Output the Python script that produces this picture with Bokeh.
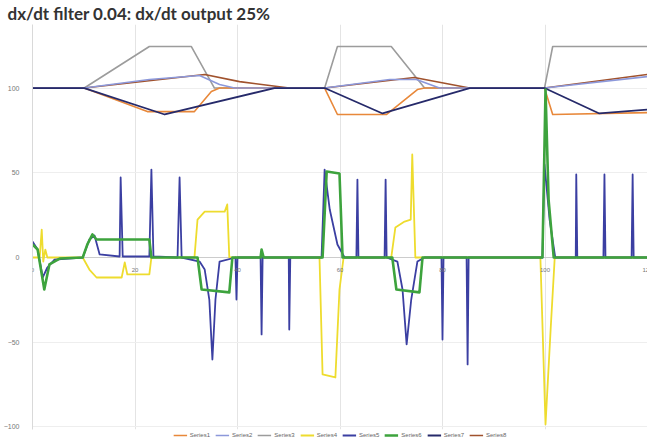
from bokeh.plotting import figure
from bokeh.models import (ColumnDataSource, Legend, LegendItem, LabelSet, Range1d, FixedTicker)
from bokeh.embed import file_html
from bokeh.resources import INLINE

TITLE = "dx/dt filter 0.04: dx/dt output 25%"

x_ticks = [0, 20, 40, 60, 80, 100, 120]
x_tick_labels = ["0", "20", "40", "60", "80", "100", "120"]
y_ticks = [-100, -50, 0, 50, 100]

series_names = ["Series1", "Series2", "Series3", "Series4", "Series5", "Series6", "Series7", "Series8"]

# Upper group (around 100)
s1_x = [0, 10.1, 22.4, 31.6, 34.9, 36.5, 57.0, 59.5, 69.1, 75.1, 76.5, 99.9, 101.5, 120]
s1_y = [100, 100, 86.1, 86.1, 97.9, 100, 100, 84.4, 84.4, 99.1, 100, 100, 84.4, 85.5]

s2_x = [0, 10.1, 22.8, 32.6, 36.5, 39.4, 57.0, 69.7, 74.9, 79.4, 99.9, 120]
s2_y = [100, 100, 105.0, 107.4, 102.1, 100, 100, 105.0, 105.0, 100, 100, 106.8]

s3_x = [0, 10.1, 22.8, 31.0, 35.5, 57.0, 59.5, 70.0, 76.5, 99.9, 101.5, 120]
s3_y = [100, 100, 124.5, 124.5, 100, 100, 124.5, 124.5, 100, 100, 124.5, 124.5]

s7_x = [0, 10.1, 25.8, 47.2, 57.0, 68.3, 85.3, 99.9, 110.6, 120]
s7_y = [100, 100, 84.4, 100, 100, 85.0, 100, 100, 85.0, 87.3]

s8_x = [0, 10.1, 33.6, 40.4, 50.1, 57.0, 74.5, 85.3, 99.9, 120]
s8_y = [100, 100, 108.0, 103.8, 100, 100, 106.2, 100, 100, 108.0]

# Lower group (around 0)
s4_x = [0, 1.4, 1.8, 2.1, 2.5, 2.9, 9.8, 11.1, 12.5, 17.4, 18.0, 18.5, 22.8, 23.2, 31.6,
        32.2, 33.6, 37.5, 38.0, 38.4, 56.0, 56.6, 59.1, 59.9, 60.7, 70.0, 70.8, 72.6, 73.8,
        74.1, 74.7, 99.1, 100.1, 101.1, 101.9, 120]
s4_y = [0, 0, 16.5, -2.4, 4.7, 0, 0, -7.1, -11.8, -11.8, -2.9, -10.0, -10.0, 0, 0,
        22.4, 27.1, 27.1, 31.3, 0, 0, -69.0, -70.8, -18.9, 0, 0, 17.7, 21.2, 22.4,
        60.8, 0, 0, -98.5, -42.5, 0, 0]

s5_x = [0, 1.0, 2.0, 2.9, 4.3, 9.8, 11.1, 12.1, 13.1, 17.0, 17.2, 17.6, 22.8, 23.2, 23.6,
        28.3, 28.7, 29.1, 32.6, 33.6, 34.5, 35.1, 35.7, 36.5, 39.6, 39.8, 40.0, 44.5, 44.7,
        44.9, 50.0, 50.1, 50.3, 56.4, 57.0, 58.0, 59.5, 60.9, 63.2, 63.4, 63.6, 68.7, 68.9,
        69.1, 71.2, 72.2, 73.0, 73.9, 75.1, 76.5, 79.8, 80.0, 80.2, 84.7, 84.9, 85.1, 99.5,
        99.9, 100.9, 102.0, 106.0, 106.1, 106.3, 111.4, 111.6, 111.8, 116.9, 117.1, 117.3, 120]
s5_y = [9.4, 4.7, -11.8, -5.9, -1.2, 0, 10.6, 13.0, 1.8, 0.6, 47.2, 0.6, 0.6, 51.9, 0.6,
        0, 47.2, 0, -2.4, -7.1, -24.8, -60.2, -24.8, -2.4, 0, -24.8, 0, 0, -45.4,
        0, 0, -42.5, 0, 0, 51.9, 28.3, 7.7, 0, 0, 46.0, 0, 0, 46.0,
        0, -2.4, -18.9, -51.3, -24.8, -2.4, 0, 0, -48.4, 0, 0, -63.1, 0, 0,
        54.9, 22.4, 0, 0, 49.0, 0, 0, 49.0, 0, 0, 49.0, 0, 0]

s6_x = [0, 1.0, 2.3, 3.3, 5.3, 9.8, 10.7, 11.7, 12.5, 22.8, 23.2, 32.2, 33.0, 38.4, 39.0,
        44.5, 44.7, 45.1, 56.6, 57.4, 59.9, 60.5, 70.2, 71.0, 75.5, 76.1, 99.5, 100.1,
        100.7, 101.7, 120]
s6_y = [7.7, 4.7, -18.9, -4.1, -0.6, 0, 7.7, 13.6, 10.6, 10.6, 0, 0, -18.9, -20.6, 0,
        0, 4.7, 0, 0, 50.7, 49.6, 0, 0, -18.9, -20.6, 0, 0, 99.1,
        34.2, 0, 0]

colors = ["#E8883A", "#8C98DA", "#9C9C9C", "#EEDC2E", "#3B3FA2", "#3DA33D", "#262A6A", "#A0522D"]
widths = [1.6, 1.6, 1.6, 1.8, 1.8, 2.6, 1.8, 1.6]

series = [(s1_x, s1_y), (s2_x, s2_y), (s3_x, s3_y), (s4_x, s4_y),
          (s5_x, s5_y), (s6_x, s6_y), (s7_x, s7_y), (s8_x, s8_y)]

p = figure(frame_width=615, frame_height=405, output_backend="svg", toolbar_location=None,
           x_range=Range1d(0, 120), y_range=Range1d(-101.5, 137.5),
           x_axis_location=None,
           min_border_left=0, min_border_right=0, min_border_top=0, min_border_bottom=0)

p.title.text = TITLE
p.title.text_font = "Lato"
p.title.text_font_size = "17px"
p.title.text_font_style = "bold"
p.title.text_color = "#333333"
p.title.standoff = 1
p.title.offset = -25

p.outline_line_color = None
p.background_fill_color = "white"
p.border_fill_color = "white"

p.xgrid.ticker = FixedTicker(ticks=x_ticks)
p.xgrid.grid_line_color = "#e4e4e4"
p.ygrid.grid_line_color = "#eeeeee"

p.yaxis.ticker = FixedTicker(ticks=y_ticks)
p.yaxis.major_label_text_font_size = "7px"
p.yaxis.major_label_text_color = "#777777"
p.yaxis.axis_line_color = "#d9d9d9"
p.yaxis.major_tick_line_color = None
p.yaxis.minor_tick_line_color = None
p.yaxis.major_tick_out = 9
p.yaxis.major_tick_in = 0
p.yaxis.major_label_standoff = 4

# zero line (category axis crossing)
p.line(x=[x_ticks[0], x_ticks[-1]], y=[0, 0], line_color="#cccccc", line_width=1)

order = [2, 0, 7, 1, 6, 3, 4, 5]
renderers = {}
for i in order:
    xs, ys = series[i]
    r = p.line(xs, ys, line_color=colors[i], line_width=widths[i], line_join="round")
    renderers[i] = r

lbl_src = ColumnDataSource(dict(x=x_ticks, y=[0] * len(x_ticks), t=x_tick_labels))
p.add_layout(LabelSet(x="x", y="y", text="t", source=lbl_src, y_offset=-14,
                      text_align="center", text_font_size="6px", text_color="#777777"))

legend = Legend(items=[LegendItem(label=series_names[i], renderers=[renderers[i]]) for i in range(8)],
                orientation="horizontal", location="top_center",
                label_text_font_size="6px", label_text_color="#666666",
                glyph_width=14, glyph_height=6, label_height=6, label_standoff=3,
                spacing=5, padding=0, margin=3, border_line_color=None,
                background_fill_alpha=0)
p.add_layout(legend, "below")

open("out.html", "w").write(file_html(p, INLINE))
